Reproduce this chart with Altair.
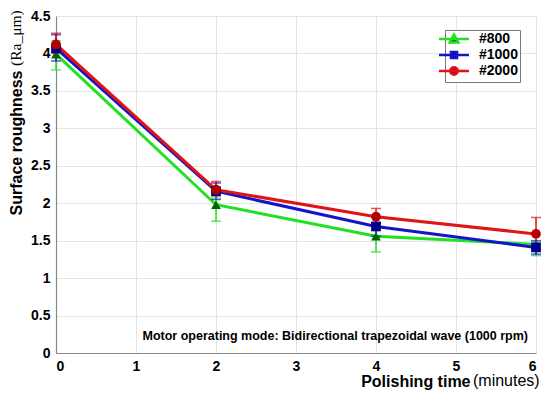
import altair as alt
import pandas as pd

series = ["#800", "#1000", "#2000"]
times = [0, 2, 4, 6]
mean_800 = [3.99, 1.98, 1.56, 1.45]
low_800 = [3.78, 1.76, 1.35, 1.30]
high_800 = [4.17, 2.07, 1.64, 1.48]
mean_1000 = [4.07, 2.16, 1.69, 1.41]
low_1000 = [3.90, 2.05, 1.56, 1.32]
high_1000 = [4.25, 2.27, 1.82, 1.50]
mean_2000 = [4.12, 2.18, 1.82, 1.59]
low_2000 = [4.00, 2.10, 1.74, 1.38]
high_2000 = [4.27, 2.29, 1.93, 1.81]

x_ticks = [0, 1, 2, 3, 4, 5, 6]
y_ticks = [0, 0.5, 1, 1.5, 2, 2.5, 3, 3.5, 4, 4.5]

line_colors = ["#22e022", "#1414c8", "#e01414"]
marker_colors = ["#006400", "#00008c", "#b40000"]
shapes = ["triangle-up", "square", "circle"]
legend_paths = [
    "M-2.73,0H2.73M0,-0.8L0.8,0.62L-0.8,0.62Z",
    "M-2.73,0H2.73M-0.55,-0.55H0.55V0.55H-0.55Z",
    "M-2.73,0H2.73M-0.68,0A0.68,0.68,0,1,0,0.68,0A0.68,0.68,0,1,0,-0.68,0Z",
]
note_text = "Motor operating mode: Bidirectional trapezoidal wave (1000 rpm)"

means = [mean_800, mean_1000, mean_2000]
lows = [low_800, low_1000, low_2000]
highs = [high_800, high_1000, high_2000]

rows = []
for i, s in enumerate(series):
    for j, t in enumerate(times):
        rows.append({
            "series": s, "order": i, "time": t, "ra": means[i][j],
            "low": lows[i][j], "high": highs[i][j],
            "lc": line_colors[i], "mc": marker_colors[i], "shp": shapes[i],
        })
df = pd.DataFrame(rows)

FONT = "Liberation Sans"

xscale = alt.Scale(domain=[0, 6], nice=False)
yscale = alt.Scale(domain=[0, 4.5], nice=False)
xaxis = alt.Axis(title="Polishing time", values=x_ticks, format="~g",
                 titleAlign="right", titleX=414, titleY=33, titleBaseline="alphabetic")
yaxis = alt.Axis(title="Surface roughness", values=y_ticks, format="~g",
                 titleAlign="left", titleAngle=-90, titleX=-35, titleY=199,
                 titleBaseline="alphabetic")

X = lambda f: alt.X(f, scale=xscale, axis=xaxis)
Y = lambda f: alt.Y(f, scale=yscale, axis=yaxis)

base = alt.Chart(df)

lines = base.mark_line(strokeWidth=3).encode(
    x=X("time:Q"), y=Y("ra:Q"), color=alt.Color("lc:N", scale=None), detail="series:N",
    order="time:Q",
)

err = base.mark_rule(strokeWidth=1.5).encode(
    x=X("time:Q"), y=Y("low:Q"), y2="high:Q", color=alt.Color("lc:N", scale=None)
)
cap_lo = base.mark_tick(thickness=1.5, size=10, orient="horizontal").encode(
    x=X("time:Q"), y=Y("low:Q"), color=alt.Color("lc:N", scale=None)
)
cap_hi = base.mark_tick(thickness=1.5, size=10, orient="horizontal").encode(
    x=X("time:Q"), y=Y("high:Q"), color=alt.Color("lc:N", scale=None)
)

points = base.mark_point(filled=True, size=95, opacity=1).encode(
    x=X("time:Q"), y=Y("ra:Q"),
    color=alt.Color("mc:N", scale=None),
    shape=alt.Shape("shp:N", scale=None),
)

legend_layer = base.mark_point(opacity=0).encode(
    x=X("time:Q"), y=Y("ra:Q"),
    shape=alt.Shape("series:N", scale=alt.Scale(domain=series, range=legend_paths),
                    legend=alt.Legend(title=None, orient="none", legendX=389, legendY=14,
                                      symbolSize=121, symbolOpacity=1, symbolStrokeWidth=2.5,
                                      labelFont=FONT, labelFontSize=14, labelFontWeight="bold",
                                      labelColor="black", rowPadding=-4, padding=2,
                                      strokeColor="#777", fillColor="white", labelOffset=18)),
    fill=alt.Fill("series:N", scale=alt.Scale(domain=series, range=marker_colors)),
    stroke=alt.Stroke("series:N", scale=alt.Scale(domain=series, range=line_colors)),
)

note = alt.Chart(pd.DataFrame({"t": [note_text]})).mark_text(
    font=FONT, fontSize=12.5, fontWeight="bold", color="black", align="right", baseline="middle"
).encode(
    x=alt.XDatum(5.9, scale=xscale, axis=xaxis),
    y=alt.YDatum(0.23, scale=yscale, axis=yaxis),
    text="t:N",
)

x_unit = alt.Chart(pd.DataFrame({"t": ["(minutes)"]})).mark_text(
    font=FONT, fontSize=16, color="black", align="left", baseline="alphabetic"
).encode(x=alt.value(417), y=alt.value(370), text="t:N")

y_unit = alt.Chart(pd.DataFrame({"t": ["(Ra_μm)"]})).mark_text(
    font="Liberation Serif", fontSize=15.5, color="black", align="left", baseline="alphabetic",
    angle=270
).encode(x=alt.value(-35), y=alt.value(50), text="t:N")

chart = alt.layer(lines, err, cap_lo, cap_hi, points, legend_layer, note, x_unit, y_unit).properties(
    width=480, height=337, padding={"left": 48, "top": 8, "right": 6, "bottom": 44},
    autosize=alt.AutoSizeParams(type="none"), background="white",
).configure_view(stroke=None).configure_axis(
    labelFont=FONT, labelFontSize=14, labelFontWeight="bold", labelColor="black",
    titleFont=FONT, titleFontSize=16, titleFontWeight="bold", titleColor="black",
    domainColor="#888", domainWidth=1.2, gridColor="#e4e4e4", ticks=False, labelPadding=6,
)

chart.save("out.html", embed_options={"renderer": "svg", "actions": False})
